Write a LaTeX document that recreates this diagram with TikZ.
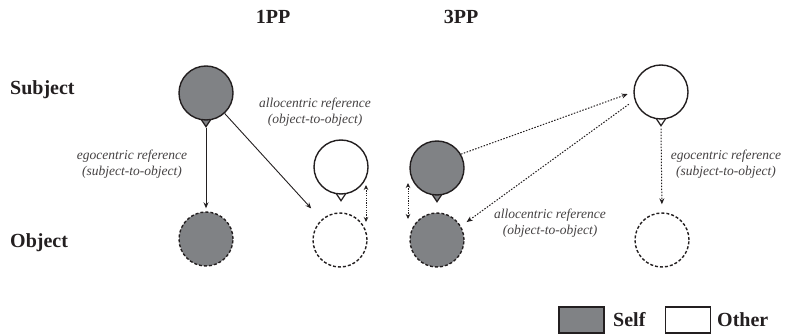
\documentclass[tikz,border=0pt]{standalone}
\usepackage{fontspec}
\setmainfont{Liberation Serif}
\usetikzlibrary{arrows.meta,backgrounds}
\definecolor{selfgray}{RGB}{128,130,133}
\definecolor{ink}{RGB}{35,31,32}
\tikzset{
  person/.style={circle,draw=ink,line width=1.4pt,minimum size=54pt,inner sep=0pt},
  selfp/.style={person,fill=selfgray},
  otherp/.style={person,fill=white},
  objc/.style={circle,draw=ink,line width=1.4pt,dash pattern=on 3pt off 2pt,minimum size=54pt,inner sep=0pt},
  selfo/.style={objc,fill=selfgray},
  othero/.style={objc,fill=white},
  boldlbl/.style={font=\fontsize{20}{24}\selectfont\bfseries,text=ink,inner sep=0pt},
  reflbl/.style={font=\fontsize{13.5}{16}\selectfont\itshape,text=ink!85,align=center,inner sep=0pt},
  solidarr/.style={draw=ink,line width=0.9pt,-{Stealth[length=6pt,width=5pt]}},
  dotarr/.style={draw=ink,line width=1pt,dash pattern=on 1.5pt off 1.5pt,-{Stealth[length=6pt,width=5pt]}},
  dotdbl/.style={draw=ink,line width=1pt,dash pattern=on 1.2pt off 1.2pt,{Stealth[length=5pt,width=4.5pt]}-{Stealth[length=5pt,width=4.5pt]}},
  legbox/.style={draw=ink,line width=1.2pt,minimum width=45pt,minimum height=26pt,inner sep=0pt},
}
\begin{document}
\begin{tikzpicture}[x=1pt,y=-1pt]
\useasboundingbox (0,0) rectangle (786,336);
% headers
\node[boldlbl,anchor=base] (h1) at (273,24) {1PP};
\node[boldlbl,anchor=base] (h3) at (461,24) {3PP};
\node[boldlbl,anchor=base west] (rs) at (10,95) {Subject};
\node[boldlbl,anchor=base west] (ro) at (10,248) {Object};
% persons
\node[selfp] (s1) at (206,93) {};
\node[otherp] (o1) at (341,167) {};
\node[selfo] (so1) at (206,239) {};
\node[othero] (oo1) at (340,240) {};
\node[selfp] (s3) at (437,168) {};
\node[otherp] (o3) at (661,92) {};
\node[selfo] (so3) at (437,240) {};
\node[othero] (oo3) at (662,240) {};
% pointers
\begin{pgfonlayer}{background}
\foreach \n/\f in {s1/selfgray,o1/white,s3/selfgray,o3/white}{
  \draw[draw=ink,line width=1.2pt,fill=\f,line join=miter]
    ([shift={(-6pt,3pt)}]\n.south) -- ([shift={(0pt,-6pt)}]\n.south) -- ([shift={(6pt,3pt)}]\n.south);
}
\end{pgfonlayer}
\coordinate (s1p) at ([yshift=-7pt]s1.south);
\coordinate (o3p) at ([yshift=-9pt]o3.south);
% 1PP connectors
\draw[solidarr,shorten >=3pt] (s1p) -- (so1.north);
\draw[solidarr,shorten <=0pt,shorten >=15pt] (s1) -- (oo1);
\coordinate (d1a) at (366,185);
\coordinate (d1b) at (366,222);
\draw[dotdbl] (d1a) -- (d1b);
% 3PP connectors
\draw[dotarr,shorten >=6pt] (s3.30) -- (o3.west);
\draw[dotarr,shorten <=7pt,shorten >=7pt] (o3.197) -- (so3.30);
\draw[dotarr,shorten >=8pt] (o3p) -- (oo3.north);
\coordinate (d3a) at (408,183);
\coordinate (d3b) at (408,219);
\draw[dotdbl] (d3a) -- (d3b);
% labels
\node[reflbl] (ego1) at (132,164) {egocentric reference\\(subject-to-object)};
\node[reflbl] (allo1) at (315,112) {allocentric reference\\(object-to-object)};
\node[reflbl] (allo3) at (550,223) {allocentric reference\\(object-to-object)};
\node[reflbl] (ego3) at (726,164) {egocentric reference\\(subject-to-object)};
% legend
\node[legbox,fill=selfgray] (lself) at (581.5,320) {};
\node[boldlbl,anchor=base west] (tself) at (613,326) {Self};
\node[legbox,fill=white] (lother) at (688,320) {};
\node[boldlbl,anchor=base west] (tother) at (717,326) {Other};
\end{tikzpicture}
\end{document}
